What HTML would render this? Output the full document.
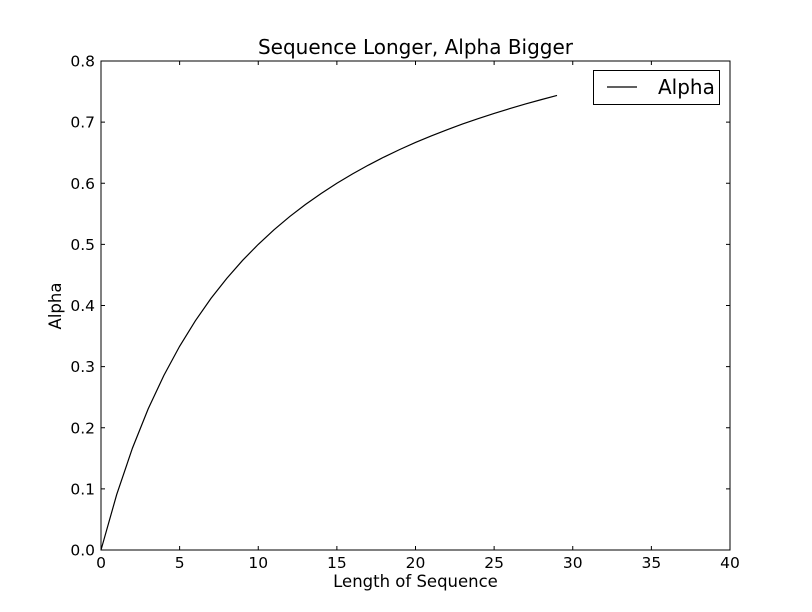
<!DOCTYPE html>
<html><head><meta charset="utf-8"><style>
html,body{margin:0;padding:0;background:#fff;}
svg{display:block;font-family:"DejaVu Sans","Liberation Sans",sans-serif;}
</style></head><body>
<svg id="chart" width="812" height="612"></svg>
<script>
const xTicks=[0,5,10,15,20,25,30,35,40];
const yTicks=[0.0,0.1,0.2,0.3,0.4,0.5,0.6,0.7,0.8];
const seqLengths=[0,1,2,3,4,5,6,7,8,9,10,11,12,13,14,15,16,17,18,19,20,21,22,23,24,25,26,27,28,29];
const alphaValues=[0,0.0909,0.1667,0.2308,0.2857,0.3333,0.375,0.4118,0.4444,0.4737,0.5,0.5238,0.5455,0.5652,0.5833,0.6,0.6154,0.6296,0.6429,0.6552,0.6667,0.6774,0.6875,0.6970,0.7059,0.7143,0.7222,0.7297,0.7368,0.7436];

const NS="http://www.w3.org/2000/svg";
const svg=document.getElementById('chart');
const L=101,R=730,T=61,B=550;
const X=v=>L+(v-0)/(40-0)*(R-L);
const Y=v=>B-(v-0)/(0.8-0)*(B-T);
function mk(tag,attrs,parent){const e=document.createElementNS(NS,tag);for(const k in attrs)e.setAttribute(k,attrs[k]);(parent||svg).appendChild(e);return e;}

const frame=mk('rect',{x:L,y:T,width:R-L,height:B-T,fill:'none',stroke:'#000','stroke-width':1});



xTicks.forEach(v=>{
  const x=X(v);
  const g=mk('g',{});
  
  
  mk('line',{x1:x,y1:B,x2:x,y2:B-4,stroke:'#000'},g);
  mk('line',{x1:x,y1:T,x2:x,y2:T+4,stroke:'#000'},g);
  const t=mk('text',{x:x,y:B+18,'text-anchor':'middle','font-size':15.5},g);
  t.textContent=String(v);
});
yTicks.forEach(v=>{
  const y=Y(v);
  const g=mk('g',{});
  
  
  mk('line',{x1:L,y1:y,x2:L+4,y2:y,stroke:'#000'},g);
  mk('line',{x1:R,y1:y,x2:R-4,y2:y,stroke:'#000'},g);
  const t=mk('text',{x:L-6,y:y+5.5,'text-anchor':'end','font-size':15.5},g);
  t.textContent=v.toFixed(1);
});

const pts=seqLengths.map((n,i)=>X(n)+','+Y(alphaValues[i])).join(' ');
const line=mk('polyline',{points:pts,fill:'none',stroke:'#000','stroke-width':1.2});



const title=mk('text',{x:(L+R)/2,y:54,'text-anchor':'middle','font-size':20});
title.textContent='Sequence Longer, Alpha Bigger';



const xl=mk('text',{x:(L+R)/2,y:587,'text-anchor':'middle','font-size':16.5});
xl.textContent='Length of Sequence';



const yl=mk('text',{x:0,y:0,'text-anchor':'middle','font-size':16.5,transform:'translate(61,306) rotate(-90)'});
yl.textContent='Alpha';



const lg=mk('g',{});


mk('rect',{x:593.5,y:70.5,width:126,height:34,fill:'#fff',stroke:'#000'},lg);
mk('line',{x1:607,y1:87,x2:637,y2:87,stroke:'#000','stroke-width':1.2},lg);
const lt=mk('text',{x:658,y:94,'font-size':20},lg);
lt.textContent='Alpha';


</script>
</body></html>
